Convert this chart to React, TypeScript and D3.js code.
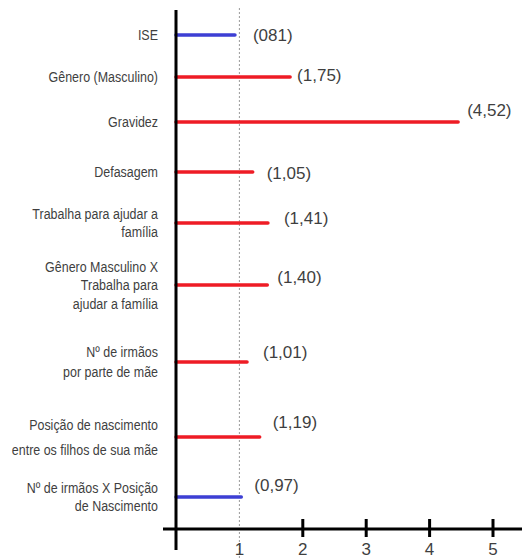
import React from "react";
import * as d3 from "d3";

// ---- data ----
const categories: string[][] = [
  ["ISE"],
  ["Gênero (Masculino)"],
  ["Gravidez"],
  ["Defasagem"],
  ["Trabalha para ajudar a", "família"],
  ["Gênero Masculino X", "Trabalha para", "ajudar a família"],
  ["Nº de irmãos", "por parte de mãe"],
  ["Posição de nascimento", "entre os filhos de sua mãe"],
  ["Nº de irmãos X Posição", "de Nascimento"],
];
// bar lengths as drawn in the picture
const barValues: number[] = [0.93, 1.8, 4.45, 1.21, 1.45, 1.44, 1.12, 1.32, 1.03];
// printed value labels
const valueLabels: string[] = ["(081)", "(1,75)", "(4,52)", "(1,05)", "(1,41)", "(1,40)", "(1,01)", "(1,19)", "(0,97)"];
// direction of effect: below 1 = blue, above 1 = red
const effect: string[] = ["neg", "pos", "pos", "pos", "pos", "pos", "pos", "pos", "neg"];
const tickValues: number[] = [1, 2, 3, 4, 5];

// ---- layout ----
const W = 522;
const H = 558;
const rowY = [35, 77, 122, 172, 223, 285, 362, 437, 497];
const lineGap = [19, 19, 19, 19, 18, 18.5, 20, 25, 18];
const labelDx = [18, 7, 9, 14, 16, 10, 16, 13, 13];
const labelDy = [0, -2, -12, 1, -5, -8, -10, -15, -12];
const axisY = 529;
const colors: Record<string, string> = { neg: "#3d3fd4", pos: "#ee1c25" };
const textColor = "#3f3f3f";
const font = "'Liberation Sans', Arial, sans-serif";
const squeeze = 0.86;

export default function App() {
  const x = d3.scaleLinear().domain([0, 5]).range([176, 493]);
  const x0 = x(0);

  return (
    <svg
      width={W}
      height={H}
      style={{ position: "absolute", left: 0, top: 0, background: "#fff" }}
      fontFamily={font}
    >
      {/* reference line at 1 */}
      <line x1={x(1)} x2={x(1)} y1={8} y2={H} stroke="#9a9a9a" strokeWidth={1} strokeDasharray="2,2" />

      {/* bars */}
      {barValues.map((v, i) => (
        <line
          key={"b" + i}
          x1={x0}
          x2={x(v)}
          y1={rowY[i]}
          y2={rowY[i]}
          stroke={colors[effect[i]]}
          strokeWidth={3.5}
          strokeLinecap="round"
        />
      ))}

      {/* value labels */}
      {valueLabels.map((t, i) => (
        <text
          key={"v" + i}
          x={x(barValues[i]) + labelDx[i]}
          y={rowY[i] + labelDy[i]}
          dy="0.35em"
          fontSize={17}
          fill={textColor}
        >
          {t}
        </text>
      ))}

      {/* category labels */}
      {categories.map((lines, i) => {
        const g = lineGap[i];
        const start = rowY[i] - ((lines.length - 1) * g) / 2;
        return (
          <g key={"c" + i} transform={`translate(158,0) scale(${squeeze},1)`}>
            <text textAnchor="end" fontSize={14.5} fill={textColor}>
              {lines.map((l, j) => (
                <tspan key={j} x={0} y={start + j * g} dy="0.35em">
                  {l}
                </tspan>
              ))}
            </text>
          </g>
        );
      })}

      {/* vertical axis */}
      <line x1={x0} x2={x0} y1={10} y2={550} stroke="#000" strokeWidth={3} />
      {/* horizontal axis */}
      <line x1={163} x2={W} y1={axisY} y2={axisY} stroke="#000" strokeWidth={3} />
      {tickValues.map((t) => (
        <g key={"t" + t}>
          {t > 1 && (
            <line x1={x(t)} x2={x(t)} y1={axisY - 10} y2={axisY + 8} stroke="#000" strokeWidth={3} />
          )}
          <text x={x(t)} y={555} textAnchor="middle" fontSize={17} fill={textColor}>
            {t}
          </text>
        </g>
      ))}
    </svg>
  );
}
